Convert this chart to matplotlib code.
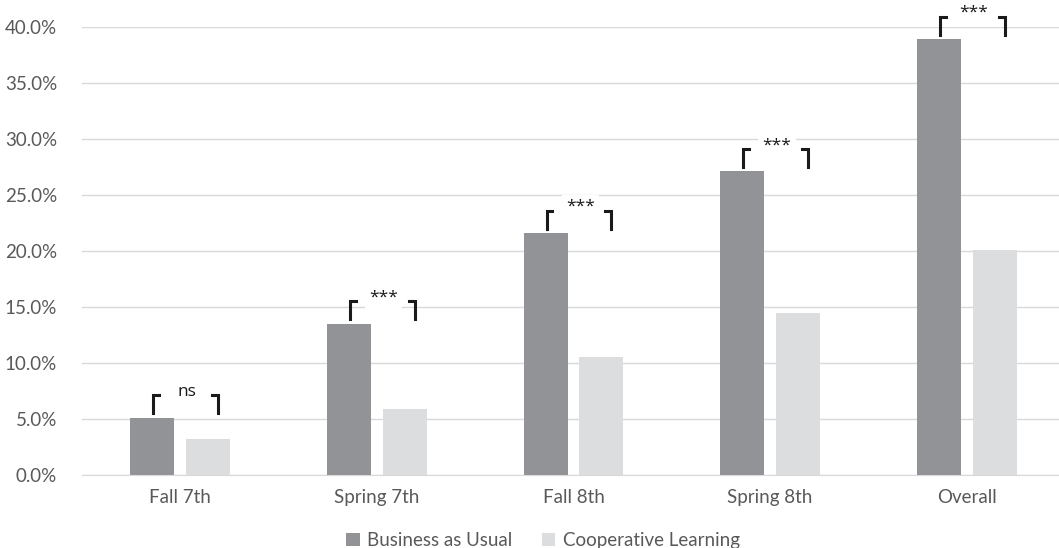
import matplotlib.pyplot as plt
import numpy as np
from matplotlib.ticker import PercentFormatter

categories = ['Fall 7th', 'Spring 7th', 'Fall 8th', 'Spring 8th', 'Overall']
business_as_usual = [5.1, 13.5, 21.6, 27.1, 38.9]
cooperative_learning = [3.2, 5.9, 10.5, 14.5, 20.1]
significance = ['ns', '***', '***', '***', '***']
series_names = ['Business as Usual', 'Cooperative Learning']

plt.rcParams['font.family'] = ['Lato', 'DejaVu Sans']

fig = plt.figure(figsize=(10.59, 5.48), dpi=100)
ax = fig.add_axes([82 / 1059, 1 - 475 / 548, (1059 - 82) / 1059, (475 - 27) / 548])

x = np.arange(len(categories))
w = 0.224
off = 0.142
ax.bar(x - off, business_as_usual, w, color='#929396', label=series_names[0], zorder=2)
ax.bar(x + off, cooperative_learning, w, color='#dcdddf', label=series_names[1], zorder=2)

# significance brackets
for i, (a, b, s) in enumerate(zip(business_as_usual, cooperative_learning, significance)):
    left = x[i] - 0.137
    right = x[i] + 0.193
    y0 = max(a, b) + 0.4
    y1 = y0 + 1.6
    tick = 0.03
    for xs, dx in ((left, tick), (right, -tick)):
        ax.plot([xs, xs, xs + dx], [y0, y1, y1], color='#1a1a1a', lw=2.2,
                solid_joinstyle='miter', clip_on=False, zorder=3)
    ty = y1 + 0.3 if s == 'ns' else y1 + 0.35
    ax.text(x[i] + 0.035, ty, s, ha='center', va='center', fontsize=12.5,
            family=['Open Sans', 'DejaVu Sans'], color='#1a1a1a', zorder=4, clip_on=False,
            bbox=dict(facecolor='white', edgecolor='none', pad=3))

ax.set_ylim(0, 40)
ax.set_xlim(-0.5, 4.47)
ax.set_yticks(np.arange(0, 41, 5))
ax.yaxis.set_major_formatter(PercentFormatter(decimals=1))
ax.set_xticks(x)
ax.set_xticklabels(categories)
ax.grid(axis='y', color='#d9d9d9', lw=1, zorder=0)
for sp in ['top', 'right', 'left']:
    ax.spines[sp].set_visible(False)
ax.spines['bottom'].set_color('#d9d9d9')
ax.tick_params(axis='both', length=0, labelsize=13.5, colors='#595959', pad=10)
ax.tick_params(axis='y', pad=18)

ax.legend(loc='upper center', bbox_to_anchor=(0.472, -0.09), ncol=2, frameon=False,
          fontsize=13.5, handlelength=0.7, handleheight=0.7, handletextpad=0.4,
          columnspacing=1.6, labelcolor='#595959')

fig.savefig('out.png', dpi=100)
